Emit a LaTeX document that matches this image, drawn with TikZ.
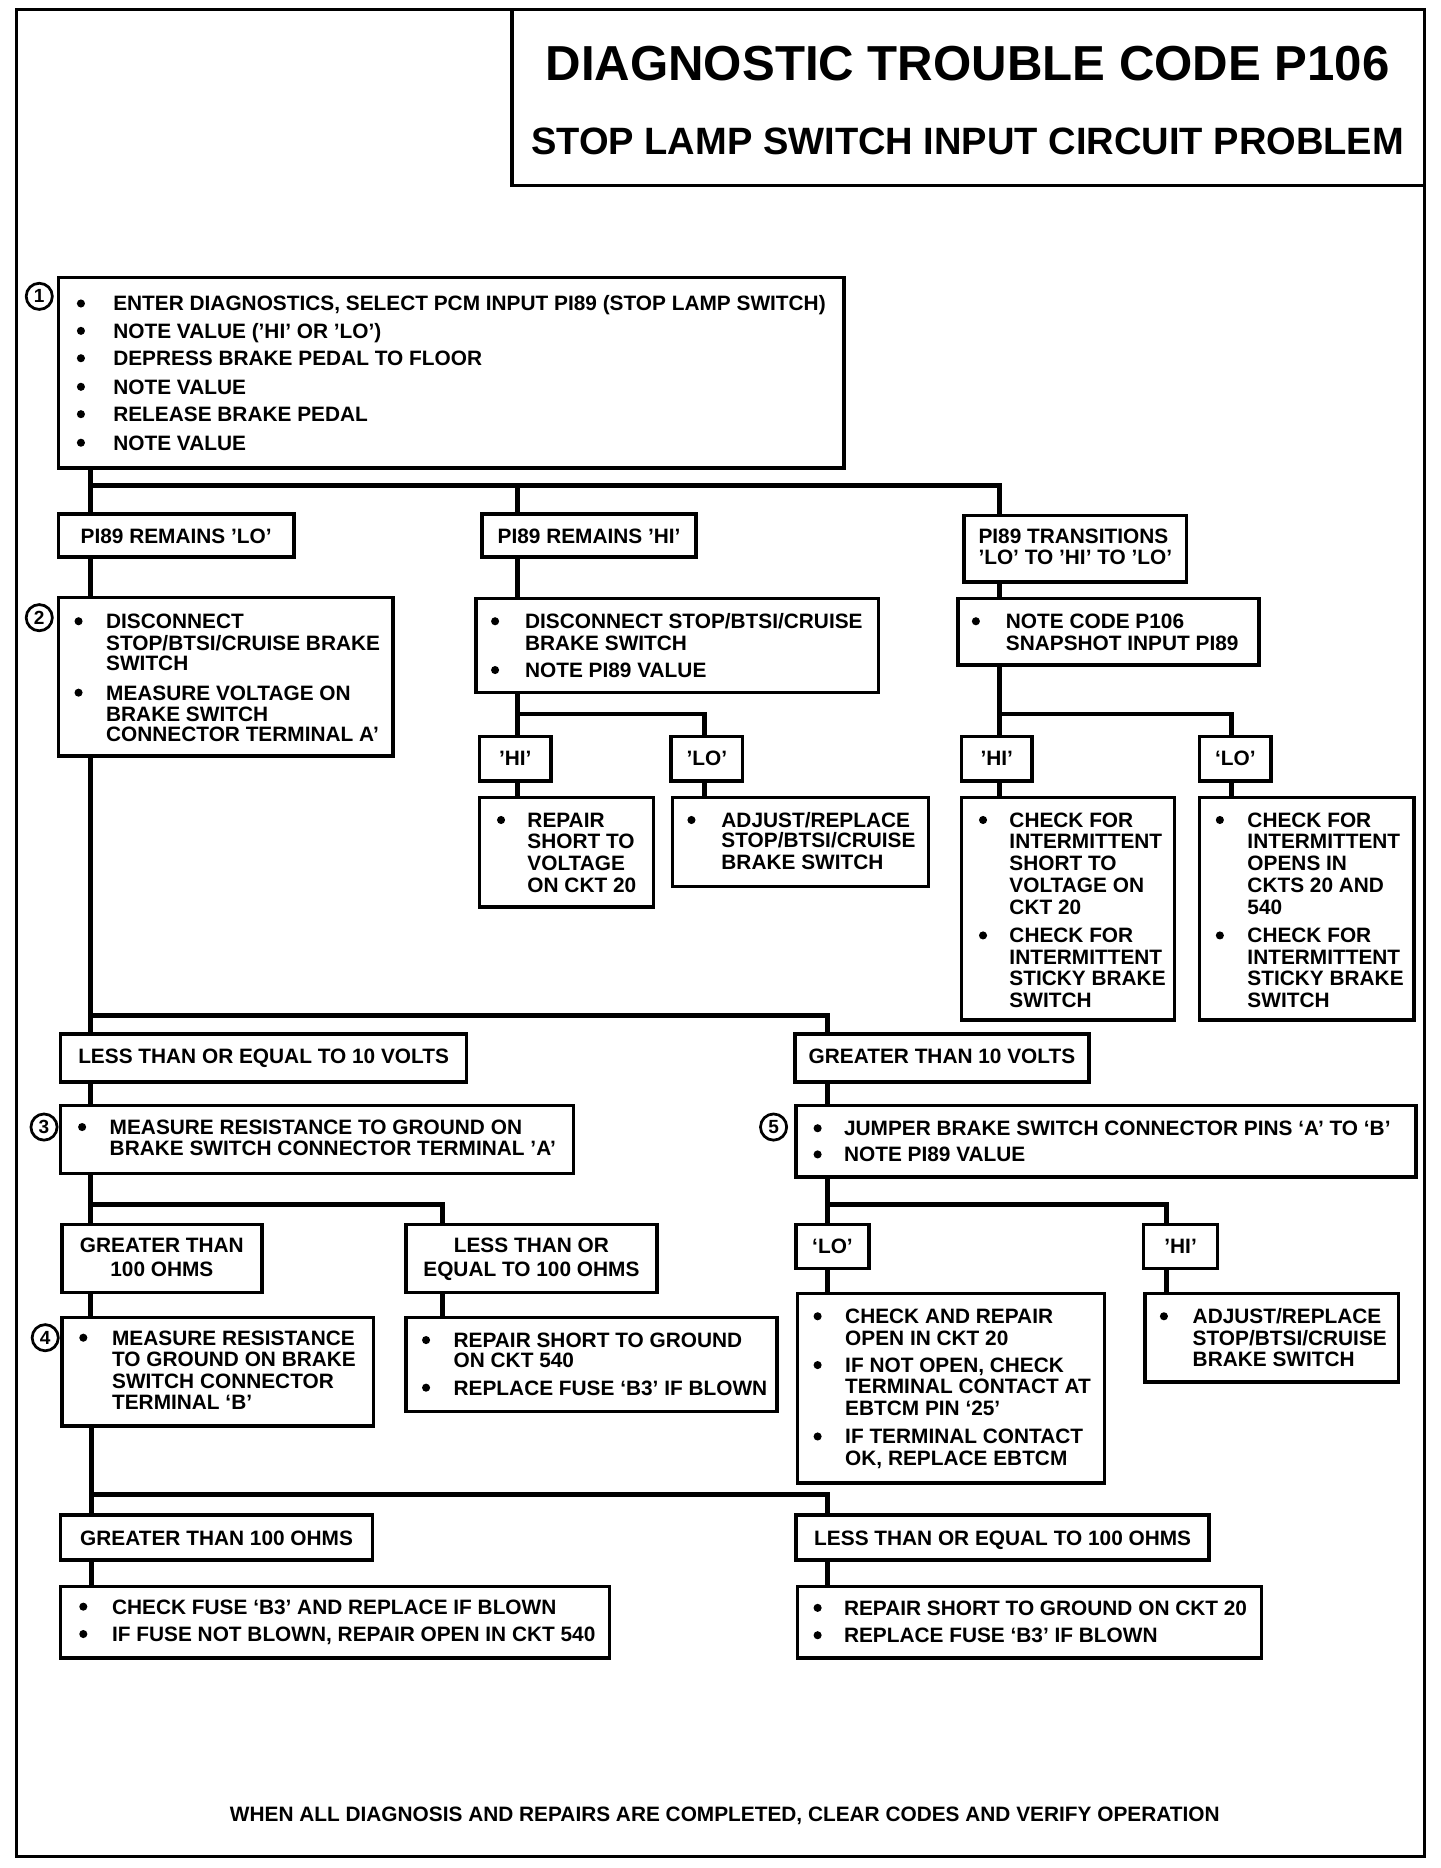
\documentclass[tikz,border=0pt]{standalone}
\usepackage{fontspec}
\setmainfont{Liberation Sans}
\usetikzlibrary{fit}
\newcounter{tn}
\newcommand\tx[3]{\stepcounter{tn}\node[txt] (t\arabic{tn}) at (#1,#2+6.3) {#3};}
\newcommand\tc[3]{\stepcounter{tn}\node[txt,anchor=base] (t\arabic{tn}) at (#1,#2+6.3) {#3};}
\newcommand\bu[2]{\fill (#1,#2) circle[radius=3.4pt];}
\newcommand\bx[5]{\node[box, fit={(#2,#3) (#4,#5)}] (#1) {};}
\newcommand\cn[4]{\node[circ] (#1) at (#2,#3) {#4};}
\tikzset{
  box/.style={draw, line width=3pt, inner sep=0pt},
  conn/.style={line width=4pt},
  txt/.style={font=\bfseries\fontsize{17.5}{18}\selectfont, inner sep=0pt, anchor=base west},
  circ/.style={draw, circle, line width=2.3pt, minimum size=22pt, inner sep=0pt, font=\bfseries\fontsize{16}{16}\selectfont},
}
\begin{document}
\begin{tikzpicture}[x=1pt,y=-1pt]
\useasboundingbox (0,0) rectangle (1210,1569.6);
% frame and title
\node[draw, line width=2.5pt, inner sep=0pt, fit={(14,8) (1197,1560)}] (frame) {};
\bx{title}{430}{8}{1197}{156}
\node[font=\bfseries\fontsize{41.3}{42}\selectfont, anchor=base, inner sep=0pt] (tt1) at (813,67.8) {DIAGNOSTIC TROUBLE CODE P106};
\node[font=\bfseries\fontsize{32}{33}\selectfont, anchor=base, inner sep=0pt] (tt2) at (813,129.5) {STOP LAMP SWITCH INPUT CIRCUIT PROBLEM};

% step 1
\cn{c1}{33}{249}{1}
\bx{b1}{49}{233}{709}{393}
\foreach \y in {255,278,301,325,348,372} {\bu{68}{\y}}
\tx{95}{255}{ENTER DIAGNOSTICS, SELECT PCM INPUT PI89 (STOP LAMP SWITCH)}
\tx{95}{278}{NOTE VALUE ('HI' OR 'LO')}
\tx{95}{301}{DEPRESS BRAKE PEDAL TO FLOOR}
\tx{95}{325}{NOTE VALUE}
\tx{95}{348}{RELEASE BRAKE PEDAL}
\tx{95}{372}{NOTE VALUE}

% first branch labels
\bx{lo}{49}{432}{247}{468}
\tc{148}{450}{PI89 REMAINS 'LO'}
\bx{hi}{405}{432}{585}{468}
\tc{495}{450}{PI89 REMAINS 'HI'}
\bx{trn}{810}{433}{997}{489}
\tx{822}{450}{PI89 TRANSITIONS}
\tx{822}{468}{'LO' TO 'HI' TO 'LO'}

% step 2
\cn{c2}{33}{519}{2}
\bx{b2}{49}{502}{330}{635}
\bu{66}{522}\bu{66}{582}
\tx{89}{522}{DISCONNECT}
\tx{89}{540}{STOP/BTSI/CRUISE BRAKE}
\tx{89}{557}{SWITCH}
\tx{89}{582}{MEASURE VOLTAGE ON}
\tx{89}{600}{BRAKE SWITCH}
\tx{89}{617}{CONNECTOR TERMINAL A'}

\bx{b2h}{400}{503}{738}{582}
\bu{416}{522}\bu{416}{563}
\tx{441}{522}{DISCONNECT STOP/BTSI/CRUISE}
\tx{441}{540}{BRAKE SWITCH}
\tx{441}{563}{NOTE PI89 VALUE}

\bx{b2t}{805}{503}{1058}{559}
\bu{820}{522}
\tx{845}{522}{NOTE CODE P106}
\tx{845}{540}{SNAPSHOT INPUT PI89}

% HI sub-branch
\bx{hh}{403}{619}{463}{656}
\tc{433}{637}{'HI'}
\bx{hl}{564}{619}{624}{656}
\tc{594}{637}{'LO'}
\bx{rh}{403}{670}{549}{762}
\bu{421}{689}
\tx{443}{689}{REPAIR}
\tx{443}{707}{SHORT TO}
\tx{443}{725}{VOLTAGE}
\tx{443}{744}{ON CKT 20}
\bx{rl}{565}{670}{780}{745}
\bu{581}{689}
\tx{606}{689}{ADJUST/REPLACE}
\tx{606}{706}{STOP/BTSI/CRUISE}
\tx{606}{724}{BRAKE SWITCH}

% transition sub-branch
\bx{th}{808}{619}{867}{656}
\tc{837.5}{637}{'HI'}
\bx{tl}{1008}{619}{1068}{656}
\tc{1038}{637}{`LO'}
\bx{ch}{808}{670}{987}{857}
\bu{826}{689}\bu{826}{786}
\tx{848}{689}{CHECK FOR}
\tx{848}{707}{INTERMITTENT}
\tx{848}{725}{SHORT TO}
\tx{848}{744}{VOLTAGE ON}
\tx{848}{762}{CKT 20}
\tx{848}{786}{CHECK FOR}
\tx{848}{804}{INTERMITTENT}
\tx{848}{822}{STICKY BRAKE}
\tx{848}{840}{SWITCH}
\bx{cl}{1008}{670}{1188}{857}
\bu{1025}{689}\bu{1025}{786}
\tx{1048}{689}{CHECK FOR}
\tx{1048}{707}{INTERMITTENT}
\tx{1048}{725}{OPENS IN}
\tx{1048}{744}{CKTS 20 AND}
\tx{1048}{762}{540}
\tx{1048}{786}{CHECK FOR}
\tx{1048}{804}{INTERMITTENT}
\tx{1048}{822}{STICKY BRAKE}
\tx{1048}{840}{SWITCH}

% voltage branch
\bx{le10}{51}{869}{392}{909}
\tc{221.5}{887}{LESS THAN OR EQUAL TO 10 VOLTS}
\bx{gt10}{668}{869}{915}{909}
\tc{791.5}{887}{GREATER THAN 10 VOLTS}

% step 3
\cn{c3}{37}{947}{3}
\bx{b3}{51}{929}{482}{986}
\bu{69}{947}
\tx{92}{947}{MEASURE RESISTANCE TO GROUND ON}
\tx{92}{965}{BRAKE SWITCH CONNECTOR TERMINAL 'A'}

\bx{gt100}{52}{1029}{220}{1086}
\tc{136}{1046}{GREATER THAN}
\tc{136}{1066}{100 OHMS}
\bx{le100}{341}{1029}{552}{1086}
\tc{446.5}{1046}{LESS THAN OR}
\tc{446.5}{1066}{EQUAL TO 100 OHMS}

% step 4
\cn{c4}{38}{1124}{4}
\bx{b4}{52}{1107}{314}{1198}
\bu{70}{1124}
\tx{94}{1124}{MEASURE RESISTANCE}
\tx{94}{1142}{TO GROUND ON BRAKE}
\tx{94}{1160}{SWITCH CONNECTOR}
\tx{94}{1178}{TERMINAL `B'}

\bx{r100}{341}{1107}{653}{1186}
\bu{358}{1126}\bu{358}{1166}
\tx{381}{1126}{REPAIR SHORT TO GROUND}
\tx{381}{1143}{ON CKT 540}
\tx{381}{1166}{REPLACE FUSE `B3' IF BLOWN}

% step 5
\cn{c5}{650}{947}{5}
\bx{b5}{669}{929}{1190}{989}
\bu{687}{948}\bu{687}{970}
\tx{709}{948}{JUMPER BRAKE SWITCH CONNECTOR PINS `A' TO `B'}
\tx{709}{970}{NOTE PI89 VALUE}

\bx{l5}{669}{1029}{730}{1066}
\tc{699.5}{1047}{`LO'}
\bx{h5}{961}{1029}{1023}{1066}
\tc{992}{1047}{'HI'}

\bx{rl5}{670}{1087}{928}{1246}
\bu{687}{1106}\bu{687}{1147}\bu{687}{1207}
\tx{710}{1106}{CHECK AND REPAIR}
\tx{710}{1124}{OPEN IN CKT 20}
\tx{710}{1147}{IF NOT OPEN, CHECK}
\tx{710}{1165}{TERMINAL CONTACT AT}
\tx{710}{1183}{EBTCM PIN `25'}
\tx{710}{1207}{IF TERMINAL CONTACT}
\tx{710}{1225}{OK, REPLACE EBTCM}

\bx{rh5}{962}{1087}{1175}{1161}
\bu{978}{1106}
\tx{1002}{1106}{ADJUST/REPLACE}
\tx{1002}{1124}{STOP/BTSI/CRUISE}
\tx{1002}{1142}{BRAKE SWITCH}

% bottom branch
\bx{gt100b}{51}{1273}{313}{1311}
\tc{182}{1292}{GREATER THAN 100 OHMS}
\bx{le100b}{669}{1273}{1016}{1311}
\tc{842.5}{1292}{LESS THAN OR EQUAL TO 100 OHMS}

\bx{rf}{51}{1333}{512}{1393}
\bu{70}{1350}\bu{70}{1373}
\tx{94}{1350}{CHECK FUSE `B3' AND REPLACE IF BLOWN}
\tx{94}{1373}{IF FUSE NOT BLOWN, REPAIR OPEN IN CKT 540}
\bx{rs}{670}{1333}{1060}{1393}
\bu{687}{1351}\bu{687}{1374}
\tx{709}{1351}{REPAIR SHORT TO GROUND ON CKT 20}
\tx{709}{1374}{REPLACE FUSE `B3' IF BLOWN}

\tc{609}{1524}{WHEN ALL DIAGNOSIS AND REPAIRS ARE COMPLETED, CLEAR CODES AND VERIFY OPERATION}

% connectors
\coordinate (j1) at (76,408);
\coordinate (j2) at (435,408);
\coordinate (j3) at (840,408);
\draw[conn] (b1.south -| j1) -- (lo.north -| j1);
\draw[conn] (j1) -- (j3) -- (trn.north -| j3);
\draw[conn] (j2) -- (hi.north -| j2);
\draw[conn] (lo.south -| j1) -- (b2.north -| j1);
\draw[conn] (hi.south -| j2) -- (b2h.north -| j2);
\draw[conn] (trn.south -| j3) -- (b2t.north -| j3);

\coordinate (k1) at (435,600);
\coordinate (k2) at (592,600);
\draw[conn] (b2h.south -| k1) -- (hh.north -| k1);
\draw[conn] (k1) -- (k2) -- (hl.north -| k2);
\draw[conn] (hh.south -| k1) -- (rh.north -| k1);
\draw[conn] (hl.south -| k2) -- (rl.north -| k2);

\coordinate (m1) at (840,600);
\coordinate (m2) at (1035,600);
\draw[conn] (b2t.south -| m1) -- (th.north -| m1);
\draw[conn] (m1) -- (m2) -- (tl.north -| m2);
\draw[conn] (th.south -| m1) -- (ch.north -| m1);
\draw[conn] (tl.south -| m2) -- (cl.north -| m2);

\coordinate (n1) at (76,853);
\coordinate (n2) at (695,853);
\draw[conn] (b2.south -| n1) -- (le10.north -| n1);
\draw[conn] (n1) -- (n2) -- (gt10.north -| n2);
\draw[conn] (le10.south -| n1) -- (b3.north -| n1);
\draw[conn] (gt10.south -| n2) -- (b5.north -| n2);

\coordinate (p1) at (76,1012);
\coordinate (p2) at (372,1012);
\draw[conn] (b3.south -| p1) -- (gt100.north -| p1);
\draw[conn] (p1) -- (p2) -- (le100.north -| p2);
\draw[conn] (gt100.south -| p1) -- (b4.north -| p1);
\draw[conn] (le100.south -| p2) -- (r100.north -| p2);

\coordinate (q1) at (695,1012);
\coordinate (q2) at (980,1012);
\draw[conn] (b5.south -| q1) -- (l5.north -| q1);
\draw[conn] (q1) -- (q2) -- (h5.north -| q2);
\draw[conn] (l5.south -| q1) -- (rl5.north -| q1);
\draw[conn] (h5.south -| q2) -- (rh5.north -| q2);

\coordinate (s1) at (77,1256);
\coordinate (s2) at (695,1256);
\draw[conn] (b4.south -| s1) -- (gt100b.north -| s1);
\draw[conn] (s1) -- (s2) -- (le100b.north -| s2);
\draw[conn] (gt100b.south -| s1) -- (rf.north -| s1);
\draw[conn] (le100b.south -| s2) -- (rs.north -| s2);
\end{tikzpicture}
\end{document}
